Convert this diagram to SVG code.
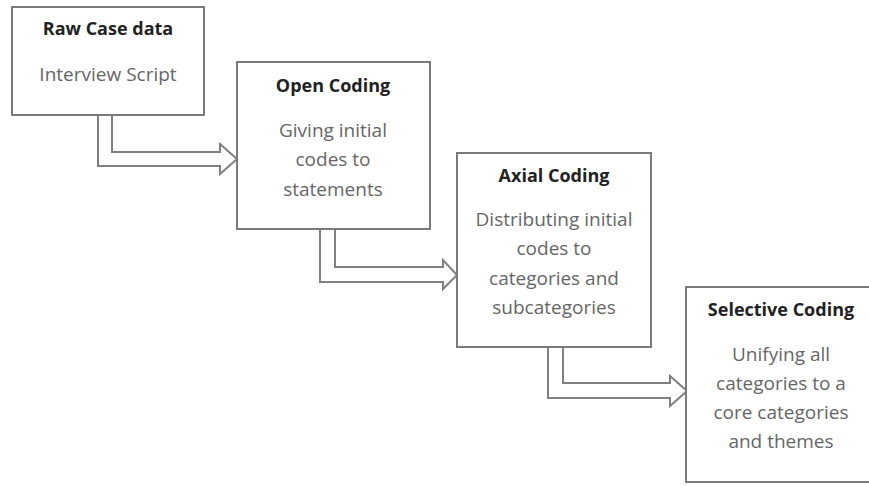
<svg xmlns="http://www.w3.org/2000/svg" width="869" height="486" viewBox="0 0 869 486">
<style>
.box{fill:#fff;stroke:#7a7a7a;stroke-width:2}
.arr{fill:#fff;stroke:#808080;stroke-width:2;stroke-linejoin:miter}
.t{font-family:"Open Sans","Liberation Sans",sans-serif;font-size:18px;font-weight:bold;fill:#222;text-anchor:middle}
.b{font-family:"Open Sans","Liberation Sans",sans-serif;font-size:19px;fill:#666;text-anchor:middle}
</style>
<rect width="869" height="486" fill="#fff"/>
<g id="connectors">
<path class="arr" d="M98,115 L98,166 L220,166 L220,174 L237,159 L220,144 L220,152 L112,152 L112,115 Z"/>
<path class="arr" d="M320,229 L320,282 L443,282 L443,289 L457,275 L443,260 L443,267 L335,267 L335,229 Z"/>
<path class="arr" d="M548,347 L548,398 L670,398 L670,406 L687,391 L670,376 L670,383 L563,383 L563,347 Z"/>
</g>
<g id="raw">
<rect class="box" x="12" y="7" width="192" height="108"/>
<text class="t" x="108" y="35">Raw Case data</text>
<text class="b" x="108" y="81">Interview Script</text>
</g>
<g id="open">
<rect class="box" x="237" y="62" width="193" height="167"/>
<text class="t" x="333" y="92">Open Coding</text>
<text class="b" x="333" y="137">Giving initial</text>
<text class="b" x="333" y="166">codes to</text>
<text class="b" x="333" y="196">statements</text>
</g>
<g id="axial">
<rect class="box" x="457" y="153" width="194" height="194"/>
<text class="t" x="554" y="182">Axial Coding</text>
<text class="b" x="554" y="226">Distributing initial</text>
<text class="b" x="554" y="255">codes to</text>
<text class="b" x="554" y="285">categories and</text>
<text class="b" x="554" y="314">subcategories</text>
</g>
<g id="selective">
<rect class="box" x="686" y="287" width="200" height="195"/>
<text class="t" x="781" y="316">Selective Coding</text>
<text class="b" x="781" y="361">Unifying all</text>
<text class="b" x="781" y="390">categories to a</text>
<text class="b" x="781" y="419">core categories</text>
<text class="b" x="781" y="448">and themes</text>
</g>
</svg>
